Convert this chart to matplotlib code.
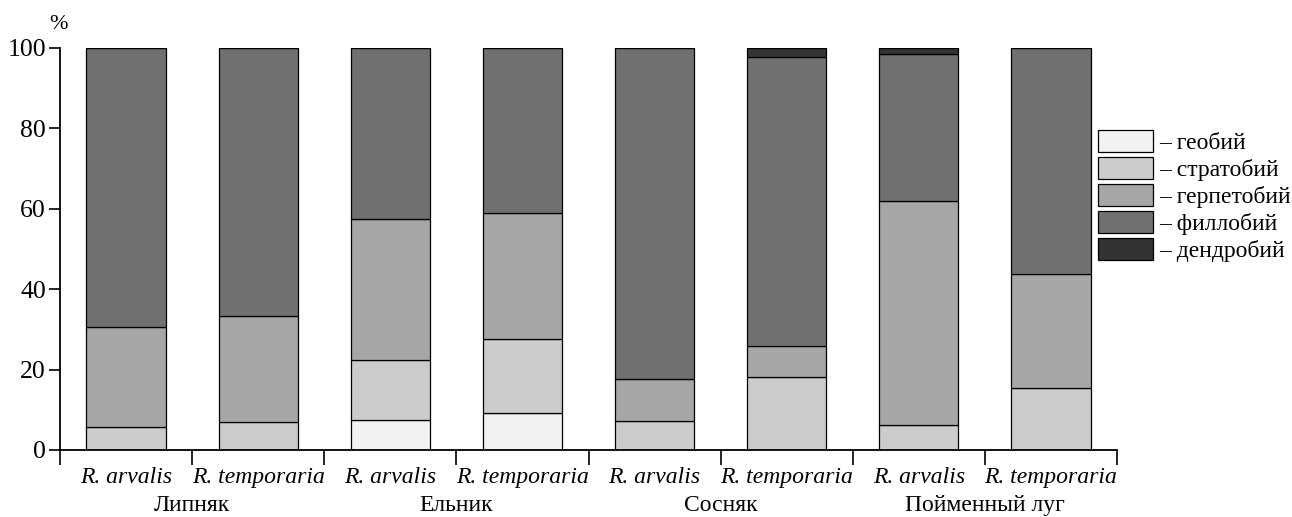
import numpy as np
import matplotlib.pyplot as plt

plt.rcParams['font.family'] = ['Liberation Serif', 'DejaVu Serif']

species = ["R. arvalis", "R. temporaria"] * 4
habitats = ["Липняк", "Ельник", "Сосняк", "Пойменный луг"]
groups = ["– геобий", "– стратобий", "– герпетобий", "– филлобий", "– дендробий"]
colors = ["#f2f2f2", "#cccccc", "#a6a6a6", "#707070", "#333333"]

# shares, % (each bar sums to 100)
geobiy = [0, 0, 7.5, 9.2, 0, 0, 0, 0]
stratobiy = [5.7, 7.0, 14.9, 18.4, 7.2, 18.2, 6.2, 15.4]
herpetobiy = [24.9, 26.3, 35.1, 31.4, 10.5, 7.7, 55.8, 28.4]
phyllobiy = [69.4, 66.7, 42.5, 41.0, 82.3, 71.9, 36.5, 56.2]
dendrobiy = [0, 0, 0, 0, 0, 2.2, 1.5, 0]

fig = plt.figure(figsize=(12.92, 5.17), dpi=100)
ax = fig.add_axes([0.0464, 0.1296, 0.8182, 0.7776])

x = np.arange(len(species)) + 0.5
bottom = np.zeros(len(species))
for vals, c, lab in zip([geobiy, stratobiy, herpetobiy, phyllobiy, dendrobiy], colors, groups):
    ax.bar(x, vals, width=0.6, bottom=bottom, color=c, edgecolor="black",
           linewidth=0.9, label=lab)
    bottom += np.array(vals)

ax.set_xlim(0, len(species))
ax.set_ylim(0, 100)
ax.spines['top'].set_visible(False)
ax.spines['right'].set_visible(False)
ax.spines['left'].set_linewidth(1.3)
ax.spines['bottom'].set_linewidth(1.3)

ax.set_yticks([0, 20, 40, 60, 80, 100])
ax.tick_params(axis='y', labelsize=18.5, length=8, width=1.2, direction='out', pad=2)
ax.set_xticks(np.arange(len(species) + 1))
ax.set_xticklabels([])
ax.tick_params(axis='x', length=11, width=1.2, direction='out')

for xi, sp in zip(x, species):
    ax.text(xi, -4.3, sp, ha='center', va='top', fontsize=17, style='italic')
for i, h in enumerate(habitats):
    ax.text(2 * i + 1, -11.2, h, ha='center', va='top', fontsize=17)

fig.text(0.045, 0.935, "%", fontsize=16, ha='center', va='bottom')

ax.legend(loc='upper left', bbox_to_anchor=(0.85, 0.748), bbox_transform=fig.transFigure,
          frameon=False, fontsize=17, handlelength=2.3, handleheight=1.05,
          labelspacing=0.12, handletextpad=0.3, borderpad=0, borderaxespad=0)

fig.savefig("out.png", dpi=100)
